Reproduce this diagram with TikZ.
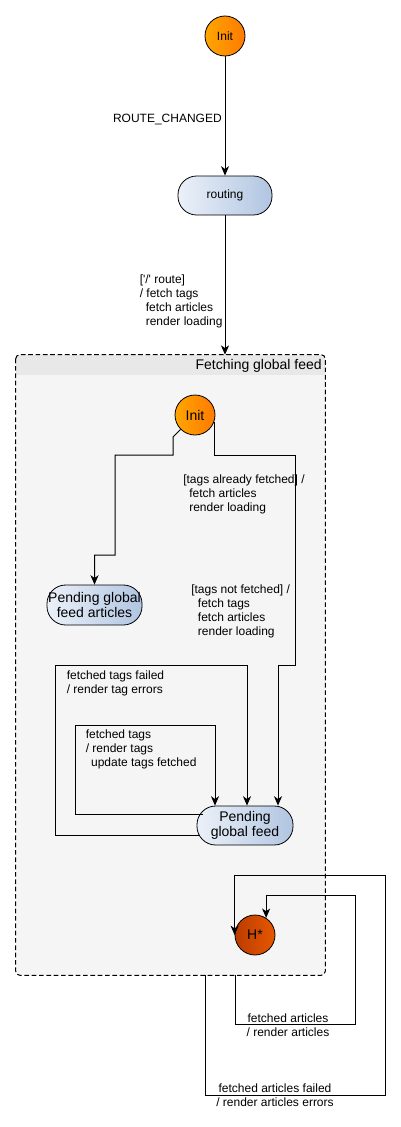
\documentclass[tikz,border=0pt]{standalone}
\usepackage{fontspec}
\setmainfont{Liberation Sans}
\usetikzlibrary{arrows.meta}
\definecolor{orA}{HTML}{FFA600}
\definecolor{orB}{HTML}{FF7A00}
\definecolor{blA}{HTML}{EBF1F9}
\definecolor{blB}{HTML}{B1C5E1}
\definecolor{hsA}{HTML}{BB3C00}
\definecolor{hsB}{HTML}{E65800}
\definecolor{bodyc}{HTML}{F5F5F5}
\definecolor{headc}{HTML}{E8E8E8}
\tikzset{
  initnode/.style={circle, draw, line width=0.6pt, left color=orA, right color=orB, minimum size=30pt, inner sep=0pt, text=black},
  statebox/.style={rectangle, rounded corners=14pt, draw, line width=0.6pt, left color=blA, right color=blB, align=center, inner sep=0pt},
  lbl/.style={font=\fontsize{9}{10.5}\selectfont, align=left, inner sep=0pt},
  smallfont/.style={font=\fontsize{9}{10.8}\selectfont},
  bigfont/.style={font=\fontsize{10.5}{11.8}\selectfont},
  arr/.style={draw, line width=0.75pt, -{Stealth[length=7pt,width=6pt,inset=2pt]}},
  frame/.style={draw, line width=0.75pt, dash pattern=on 3.5pt off 2pt, rounded corners=3pt}
}
\begin{document}
\begin{tikzpicture}[x=0.75pt,y=-0.75pt]
\useasboundingbox (0,0) rectangle (400,1127);
\fill[white] (0,0) rectangle (400,1127);

% top level
\node[initnode, smallfont] (init1) at (225,36) {Init};
\node[statebox, smallfont, minimum width=70.5pt, minimum height=29.25pt] (routing) at (225,195.5) {routing};

% container
\node[minimum width=231.75pt, minimum height=465pt, inner sep=0pt, fill=bodyc, rounded corners=3pt] (feed) at (170.5,665) {};
\fill[headc] ([shift={(0.5pt,-0.5pt)}]feed.north west) rectangle ([shift={(-0.5pt,-15pt)}]feed.north east);
\draw[frame] (feed.north west) rectangle (feed.south east);
\node[bigfont, anchor=east, inner sep=0pt] (title) at (322,366) {Fetching global feed};

% inner states
\node[initnode, bigfont] (init2) at (195,415) {Init};
\node[statebox, bigfont, minimum width=71.25pt, minimum height=30pt] (pga) at (94.5,605) {Pending global\\feed articles};
\node[statebox, bigfont, minimum width=72pt, minimum height=29.25pt] (pgf) at (245,825.5) {Pending\\global feed};
\node[circle, draw, line width=0.6pt, left color=hsA, right color=hsB, minimum size=30pt, inner sep=0pt, bigfont] (hs) at (255,935) {H*};

% edges
\draw[arr] (init1) -- (routing);
\node[lbl, anchor=east] (l1) at (222,120) {ROUTE\_CHANGED};

\draw[arr] (routing) -- (routing |- feed.north);
\node[lbl, anchor=west] (l2) at (139.5,301) {[\textquotesingle/\textquotesingle\ route]\\/ fetch tags\\\hspace{4.5pt}fetch articles\\\hspace{4.5pt}render loading};

\draw[arr] (init2.225) -- (173,437) -- (173,455) -| (115,555) -| (pga.north);
\node[lbl, anchor=west] (l3) at (183,494) {[tags already fetched] /\\\hspace{4.5pt}fetch articles\\\hspace{4.5pt}render loading};

\draw[arr] (init2.-20) |- (295,455) -- (295,665) -| ([xshift=24.75pt]pgf.north);
\node[lbl, anchor=west] (l4) at (191,611) {[tags not fetched] /\\\hspace{5pt}fetch tags\\\hspace{5pt}fetch articles\\\hspace{5pt}render loading};

\draw[arr] ([shift={(2.25pt,-7.65pt)}]pgf.west) -| (55,665) -| ([xshift=1.5pt]pgf.north);
\node[lbl, anchor=west] (l5) at (66.5,683) {fetched tags failed\\/ render tag errors};

\draw[arr] ([shift={(4.5pt,7.9pt)}]pgf.west) -| (75,725) -| ([xshift=-22.5pt]pgf.north);
\node[lbl, anchor=west] (l6) at (85.5,749.5) {fetched tags\\/ render tags\\\hspace{4pt}update tags fetched};

\draw[arr] ([xshift=48.75pt]feed.south) |- (355,1024) -- (355,895) -| (hs.57);
\node[lbl, align=center] (l7) at (288,1025) {fetched articles\\/ render articles};

\draw[arr] ([xshift=26.25pt]feed.south) |- (385,1095) -- (385,875) -| (hs.west);
\node[lbl, align=center] (l8) at (275,1095.5) {fetched articles failed\\/ render articles errors};
\end{tikzpicture}
\end{document}
